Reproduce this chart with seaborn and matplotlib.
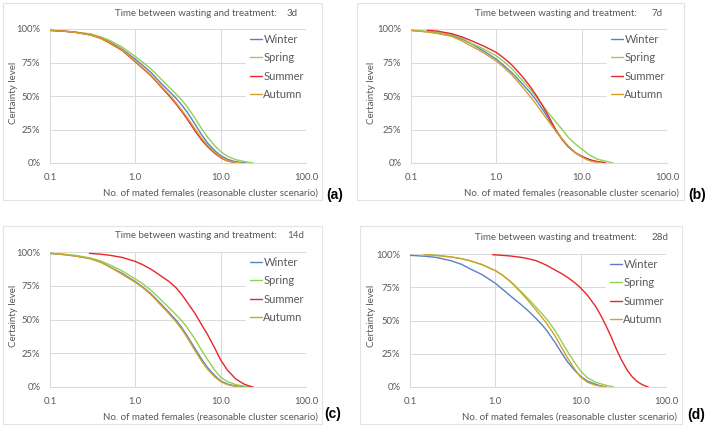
import matplotlib
matplotlib.use("Agg")
import matplotlib.pyplot as plt
from matplotlib.patches import Rectangle
import pandas as pd
import seaborn as sns

# ---- data (x = no. of mated females, y = certainty %) ----
seasons = ["Winter", "Spring", "Summer", "Autumn"]
delays = ["3d", "7d", "14d", "28d"]
tags = ["(a)", "(b)", "(c)", "(d)"]

# panel (a) 3d
a_winter_x = [0.1, 0.15, 0.2, 0.3, 0.4, 0.5, 0.7, 1, 1.2, 1.5, 1.7, 2, 2.5, 3, 3.5, 4, 5, 6, 7, 8.5, 10, 12, 14, 17, 20]
a_winter_y = [99, 98.3, 97.5, 96, 93.5, 90.5, 85, 77.5, 73.3, 68, 64.3, 59.5, 53.5, 48.3, 43.2, 38.5, 29, 21, 15, 9.3, 5.5, 2.8, 1.4, 0.4, 0]
a_spring_x = [0.1, 0.15, 0.2, 0.3, 0.4, 0.5, 0.7, 1, 1.2, 1.5, 1.7, 2, 2.5, 3, 3.5, 4, 5, 6, 7, 8.5, 10, 12, 15, 20, 24]
a_spring_y = [99, 98.4, 97.7, 96.3, 94, 91.5, 86.5, 79.5, 75.6, 70.6, 67.3, 62.7, 56.5, 51.5, 47, 42.5, 33.5, 25.5, 19.5, 13, 8.5, 5, 2.5, 0.8, 0]
a_summer_x = [0.1, 0.15, 0.2, 0.3, 0.4, 0.5, 0.7, 1, 1.2, 1.5, 1.7, 2, 2.5, 3, 3.5, 4, 5, 6, 7, 8.5, 10, 11.5, 13, 16]
a_summer_y = [99, 98.3, 97.5, 95.5, 92.8, 89.5, 84, 75.5, 71, 65.5, 61.8, 56.8, 50, 44, 38.5, 33.3, 24, 17, 12.3, 7.3, 4, 2, 1, 0]
a_autumn_x = [0.1, 0.15, 0.2, 0.3, 0.4, 0.5, 0.7, 1, 1.2, 1.5, 1.7, 2, 2.5, 3, 3.5, 4, 5, 6, 7, 8.5, 10, 11.5, 13, 17]
a_autumn_y = [99, 98.3, 97.5, 95.5, 93, 90, 84.5, 76, 71.5, 66, 62.3, 57.5, 51, 45, 39.5, 34.5, 25.5, 18.3, 13.3, 8, 4.5, 2.3, 1.2, 0]

# panel (b) 7d
b_winter_x = [0.1, 0.15, 0.2, 0.3, 0.4, 0.5, 0.7, 1, 1.2, 1.5, 1.7, 2, 2.5, 3, 3.5, 4, 5, 6, 7, 8.5, 10, 12, 14, 19]
b_winter_y = [99, 98, 97, 95, 92.3, 89.3, 83.8, 77.5, 73.3, 67.7, 64.2, 59.3, 52.5, 46, 39.8, 34, 24, 17, 12, 7.5, 5, 2.8, 1.5, 0]
b_spring_x = [0.1, 0.15, 0.2, 0.3, 0.4, 0.5, 0.7, 1, 1.2, 1.5, 1.7, 2, 2.5, 3, 3.5, 4, 5, 6, 7, 8.5, 10, 12, 15, 20, 23.5]
b_spring_y = [99, 98.3, 97.5, 95.8, 93, 89.5, 85.3, 80, 76.2, 70.8, 67, 62, 55, 48.5, 43, 38, 30.5, 24.5, 19, 14, 10.5, 6.5, 3, 1, 0]
b_summer_x = [0.155, 0.2, 0.3, 0.4, 0.5, 0.7, 1, 1.2, 1.5, 1.7, 2, 2.5, 3, 3.5, 4, 5, 6, 7, 8.5, 10, 12, 14, 19]
b_summer_y = [99, 98.5, 96.5, 94, 91.5, 87.5, 82.5, 78.8, 73.5, 69.8, 64.8, 57, 49.5, 42.5, 36, 24.5, 17, 12, 7.5, 5, 2.8, 1.5, 0]
b_autumn_x = [0.1, 0.15, 0.2, 0.3, 0.4, 0.5, 0.7, 1, 1.2, 1.5, 1.7, 2, 2.5, 3, 3.5, 4, 5, 6, 7, 8.5, 10, 11.5, 13, 17]
b_autumn_y = [99, 97.9, 96.8, 94.5, 91, 87.5, 82.5, 76, 71.8, 66.2, 62.3, 57, 49.5, 43, 37, 32, 23.5, 17.5, 12.5, 7.5, 4.5, 2.5, 1.2, 0]

# panel (c) 14d
c_winter_x = [0.1, 0.15, 0.2, 0.3, 0.4, 0.5, 0.7, 1, 1.2, 1.5, 1.7, 2, 2.5, 3, 3.5, 4, 5, 6, 7, 8.5, 10, 12, 14, 19]
c_winter_y = [99, 98, 97, 95, 92.3, 89, 84.2, 78, 74.5, 69.5, 66, 61.5, 55, 49.5, 44, 38.5, 28.5, 20.5, 14.5, 8.5, 4.5, 2.2, 1.1, 0]
c_spring_x = [0.1, 0.15, 0.2, 0.3, 0.4, 0.5, 0.7, 1, 1.2, 1.5, 1.7, 2, 2.5, 3, 3.5, 4, 5, 6, 7, 8.5, 10, 12, 15, 19, 23]
c_spring_y = [99, 98.3, 97.5, 95.5, 93.2, 90.5, 86, 80, 76.8, 72, 68.8, 64.5, 58.5, 53.5, 49, 44.5, 35.5, 27, 20.5, 12.5, 7.2, 4, 1.8, 0.6, 0]
c_summer_x = [0.29, 0.4, 0.5, 0.7, 1, 1.2, 1.5, 1.7, 2, 2.5, 3, 3.5, 4, 5, 6, 7, 8.5, 10, 12, 15, 17, 19, 21.5, 24]
c_summer_y = [99, 98.3, 97.6, 96, 93, 90.8, 87.5, 85.3, 82.2, 78, 73.5, 68.5, 63.3, 54.5, 46, 39, 29, 20, 12.5, 6, 3.8, 2, 0.8, 0]
c_autumn_x = [0.1, 0.15, 0.2, 0.3, 0.4, 0.5, 0.7, 1, 1.2, 1.5, 1.7, 2, 2.5, 3, 3.5, 4, 5, 6, 7, 8.5, 10, 11.5, 13, 17]
c_autumn_y = [99, 98, 97, 95, 92.2, 89, 83.5, 77.5, 74, 68.8, 65.3, 60.5, 54, 48.3, 42.8, 37.2, 27, 19, 13.2, 7.5, 4, 2.2, 1.2, 0]

# panel (d) 28d
d_winter_x = [0.1, 0.15, 0.2, 0.3, 0.4, 0.5, 0.7, 1, 1.2, 1.5, 2, 2.5, 3, 3.5, 4, 5, 6, 7, 8.5, 10, 12, 15, 17, 20]
d_winter_y = [99, 98.3, 97.5, 95, 92.3, 89, 84.5, 78, 73.8, 68.5, 62, 56.5, 51.5, 47, 42.5, 33.5, 25.5, 19, 12.5, 8, 4.5, 2, 0.9, 0]
d_spring_x = [0.146, 0.2, 0.3, 0.4, 0.5, 0.7, 1, 1.2, 1.5, 1.7, 2, 2.5, 3, 3.5, 4, 5, 6, 7, 8.5, 10, 12, 15, 20, 24.5]
d_spring_y = [99.5, 99, 97.8, 96.5, 95, 92, 87.5, 84.3, 79.5, 76.2, 71.8, 65.5, 60, 55.3, 51, 42.5, 34, 26.8, 18.3, 12, 7, 3.5, 1.2, 0]
d_summer_x = [0.93, 1.2, 1.5, 2, 2.5, 3, 4, 5, 6, 7, 8.5, 10, 12, 15, 17.5, 20, 22.5, 25, 27.5, 30, 35, 40, 45, 50, 55, 62]
d_summer_y = [99.5, 99, 98.5, 97.5, 96.3, 95, 91.5, 88, 85.2, 82.5, 78.5, 74.5, 69, 60.5, 53, 45.5, 38.5, 31.5, 25.5, 20.5, 12.8, 7.8, 4.6, 2.6, 1.2, 0]
d_autumn_x = [0.146, 0.2, 0.3, 0.4, 0.5, 0.7, 1, 1.2, 1.5, 1.7, 2, 2.5, 3, 3.5, 4, 5, 6, 7, 8.5, 10, 12, 15, 20]
d_autumn_y = [99.5, 99, 97.8, 96.5, 95, 92, 87.5, 84.3, 79.3, 75.8, 71, 64, 57.8, 52.5, 47.7, 38.5, 29.5, 22, 13.5, 7.5, 3.6, 1.3, 0]

x_ticks = [0.1, 1, 10, 100]
x_tick_labels = ["0.1", "1.0", "10.0", "100.0"]
y_ticks = [0, 25, 50, 75, 100]
y_tick_labels = ["0%", "25%", "50%", "75%", "100%"]

panels = [
    [(a_winter_x, a_winter_y), (a_spring_x, a_spring_y), (a_summer_x, a_summer_y), (a_autumn_x, a_autumn_y)],
    [(b_winter_x, b_winter_y), (b_spring_x, b_spring_y), (b_summer_x, b_summer_y), (b_autumn_x, b_autumn_y)],
    [(c_winter_x, c_winter_y), (c_spring_x, c_spring_y), (c_summer_x, c_summer_y), (c_autumn_x, c_autumn_y)],
    [(d_winter_x, d_winter_y), (d_spring_x, d_spring_y), (d_summer_x, d_summer_y), (d_autumn_x, d_autumn_y)],
]

palette = {"Winter": "#5B7FC8", "Spring": "#92D050", "Summer": "#E8262B", "Autumn": "#D3A12B"}

# ---- layout in pixels (left, top, right, bottom) ----
W, H = 709, 428
layout = [
    dict(ax=(50, 29, 306, 163), box=(3, 3, 322, 200), ty=13, colon=277, val=287,
         xl=(318, 193), yl=(13, 93), tag=(335, 195)),
    dict(ax=(411, 29, 667, 163), box=(357, 3, 684, 200), ty=13, colon=637, val=651,
         xl=(679, 193), yl=(372, 93), tag=(697, 195)),
    dict(ax=(50, 252, 306, 387), box=(3, 226, 322, 424), ty=236, colon=277, val=287,
         xl=(318, 417), yl=(13, 316), tag=(333, 414)),
    dict(ax=(410, 254, 666, 387), box=(360, 226, 682, 424), ty=238, colon=637, val=651,
         xl=(677, 417), yl=(371, 316), tag=(696, 415)),
]

sns.set_style("white")
plt.rcParams["font.family"] = ["Lato", "DejaVu Sans"]
gray = "#595959"
grid_c = "#d9d9d9"

fig = plt.figure(figsize=(W / 100, H / 100), dpi=100)


def fx(px):
    return px / W


def fy(py):
    return 1 - py / H


for i, lay in enumerate(layout):
    l, t, r, b = lay["box"]
    fig.patches.append(Rectangle((fx(l), fy(b)), fx(r - l), (b - t) / H, transform=fig.transFigure,
                                 fill=False, edgecolor="#e3e3e3", linewidth=0.8))

    l, t, r, b = lay["ax"]
    ax = fig.add_axes([fx(l), fy(b), fx(r - l), (b - t) / H])

    rows = []
    for season, (xs, ys) in zip(seasons, panels[i]):
        for xv, yv in zip(xs, ys):
            rows.append({"x": xv, "y": yv, "season": season})
    df = pd.DataFrame(rows)

    sns.lineplot(data=df, x="x", y="y", hue="season", hue_order=seasons, palette=palette,
                 estimator=None, sort=False, linewidth=1.0, ax=ax)

    ax.set_xscale("log")
    ax.set_xlim(0.1, 100)
    ax.set_ylim(0, 100)
    ax.set_xticks(x_ticks)
    ax.set_xticklabels(x_tick_labels)
    ax.set_yticks(y_ticks)
    ax.set_yticklabels(y_tick_labels)
    ax.minorticks_off()
    ax.tick_params(length=0, labelsize=6.8, colors=gray, pad=7)
    ax.set_xlabel("")
    ax.set_ylabel("")
    ax.grid(True, color=grid_c, linewidth=0.7)
    ax.get_xgridlines()[-1].set_visible(False)
    for side in ["top", "right", "left"]:
        ax.spines[side].set_visible(False)
    ax.spines["bottom"].set_color(grid_c)
    ax.spines["bottom"].set_linewidth(0.8)

    leg = ax.legend(loc="upper right", bbox_to_anchor=(1.005, 0.99), fontsize=8,
                    handlelength=1.1, handletextpad=0.15, labelspacing=0.68,
                    borderpad=0.3, frameon=True, framealpha=1, edgecolor="none",
                    facecolor="white", borderaxespad=0)
    leg.set_zorder(1)  # above the grid, below the curves
    for txt in leg.get_texts():
        txt.set_color(gray)

    fig.text(fx(lay["colon"]), fy(lay["ty"]), "Time between wasting and treatment:",
             ha="right", va="center", fontsize=7, color=gray)
    fig.text(fx(lay["val"]), fy(lay["ty"]), delays[i], ha="left", va="center",
             fontsize=7, color=gray)
    fig.text(fx(lay["xl"][0]), fy(lay["xl"][1]), "No. of mated females (reasonable cluster scenario)",
             ha="right", va="center", fontsize=7, color=gray)
    fig.text(fx(lay["yl"][0]), fy(lay["yl"][1]), "Certainty level", rotation=90,
             ha="center", va="center", fontsize=7, color=gray)
    fig.text(fx(lay["tag"][0]), fy(lay["tag"][1]), tags[i], ha="center", va="center",
             fontsize=10, fontweight="bold", color="black", family=["Liberation Sans", "DejaVu Sans"])

fig.savefig("out.png", dpi=100)
